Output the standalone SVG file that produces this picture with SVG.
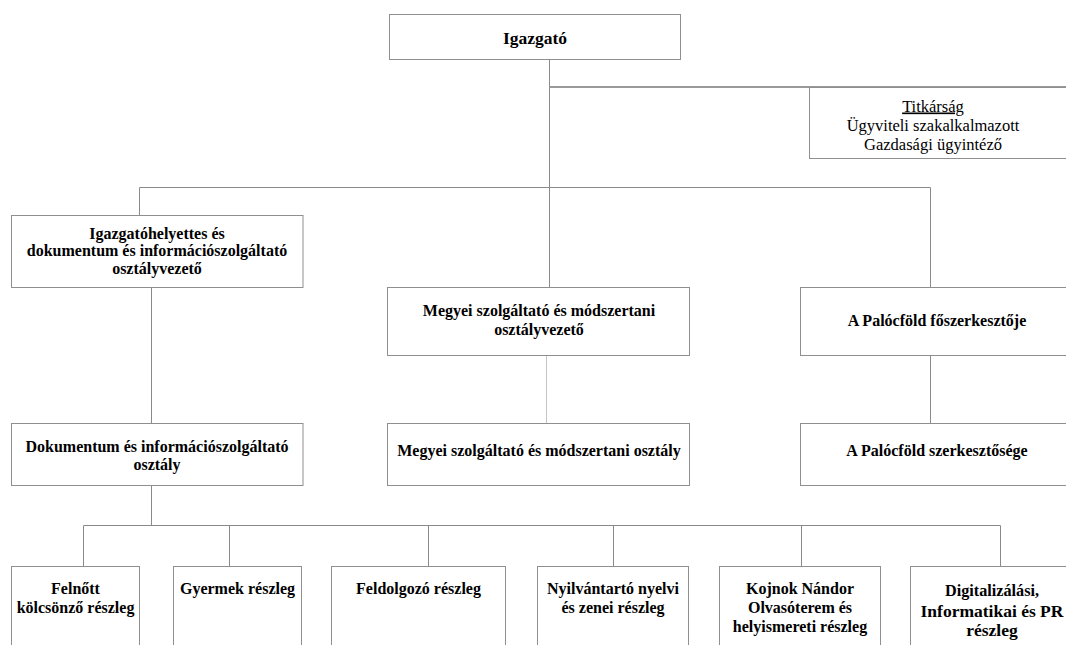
<svg xmlns="http://www.w3.org/2000/svg" width="1066" height="645" viewBox="0 0 1066 645">
<style>
.box{fill:#fff;stroke:#8f8f8f;stroke-width:1}
.ln{fill:none;stroke:#8a8a8a;stroke-width:1}
.t{font-weight:bold;font-size:16px;fill:#000;text-anchor:middle}
.r{font-size:16.5px;fill:#000;text-anchor:middle}
</style>
<rect width="1066" height="645" fill="#fff"/>
<g id="connectors">
<path class="ln" d="M549.5 59V187.5"/>
<path class="ln" d="M549.5 87H1070" style="stroke-width:2;stroke:#9a9a9a"/>
<path class="ln" d="M139.5 187.5H930.5M139.5 187.5V215M549.5 187.5V287M930.5 187.5V287"/>
<path class="ln" d="M151.5 287V423M930.5 355V423"/>
<path class="ln" d="M546.5 355V423" style="stroke:#c4c4c4"/>
<path class="ln" d="M151.5 485V525.5M83.5 525.5H1000.5M83.5 525.5V566M229.5 525.5V566M428.5 525.5V566M613.5 525.5V566M801.5 525.5V566M1000.5 525.5V566"/>
</g>
<g font-family="'Liberation Serif', 'Times New Roman', Tinos, 'DejaVu Serif', serif">
<g id="igazgato">
<rect class="box" x="389.5" y="14.5" width="291" height="45"/>
<text class="t" x="535" y="44" style="font-size:17.5px">Igazgató</text>
</g>
<g id="titkarsag">
<rect class="box" x="809.5" y="87.5" width="262" height="71"/>
<text class="r" x="933" y="111.5" text-decoration="underline">Titkárság</text>
<text class="r" x="933" y="130.5">Ügyviteli szakalkalmazott</text>
<text class="r" x="933" y="149.5">Gazdasági ügyintéző</text>
</g>
<g id="igazgatohelyettes">
<rect class="box" x="11.5" y="215.5" width="291.5" height="72"/>
<text class="t" x="157" y="238.5">Igazgatóhelyettes és</text>
<text class="t" x="157" y="256">dokumentum és információszolgáltató</text>
<text class="t" x="157" y="273.5">osztályvezető</text>
</g>
<g id="megyei-vezeto">
<rect class="box" x="387.5" y="287.5" width="302" height="68"/>
<text class="t" x="539" y="315.5">Megyei szolgáltató és módszertani</text>
<text class="t" x="539" y="335">osztályvezető</text>
</g>
<g id="palocfold-fo">
<rect class="box" x="800.5" y="287.5" width="280" height="68"/>
<text class="t" x="937" y="325.5">A Palócföld főszerkesztője</text>
</g>
<g id="dokumentum-osztaly">
<rect class="box" x="11.5" y="423.5" width="291.5" height="62"/>
<text class="t" x="157" y="451.5">Dokumentum és információszolgáltató</text>
<text class="t" x="157" y="470">osztály</text>
</g>
<g id="megyei-osztaly">
<rect class="box" x="387.5" y="423.5" width="302" height="62"/>
<text class="t" x="539" y="456">Megyei szolgáltató és módszertani osztály</text>
</g>
<g id="palocfold-szerk">
<rect class="box" x="800.5" y="423.5" width="280" height="62"/>
<text class="t" x="937" y="456">A Palócföld szerkesztősége</text>
</g>
<g id="felnott">
<rect class="box" x="11.5" y="566.5" width="128" height="100"/>
<text class="t" x="75.5" y="593.5">Felnőtt</text>
<text class="t" x="75.5" y="612.5">kölcsönző részleg</text>
</g>
<g id="gyermek">
<rect class="box" x="173.5" y="566.5" width="128" height="100"/>
<text class="t" x="237.5" y="594">Gyermek részleg</text>
</g>
<g id="feldolgozo">
<rect class="box" x="331.5" y="566.5" width="174" height="100"/>
<text class="t" x="418.5" y="594">Feldolgozó részleg</text>
</g>
<g id="nyilvantarto">
<rect class="box" x="537.5" y="566.5" width="151" height="100"/>
<text class="t" x="613" y="594">Nyilvántartó nyelvi</text>
<text class="t" x="613" y="613">és zenei részleg</text>
</g>
<g id="kojnok">
<rect class="box" x="719.5" y="566.5" width="161" height="100"/>
<text class="t" x="800" y="594">Kojnok Nándor</text>
<text class="t" x="800" y="613">Olvasóterem és</text>
<text class="t" x="800" y="632">helyismereti részleg</text>
</g>
<g id="digitalizalasi">
<rect class="box" x="910.5" y="566.5" width="170" height="100"/>
<text class="t" x="992" y="596" style="font-size:17.5px" textLength="94" lengthAdjust="spacingAndGlyphs">Digitalizálási,</text>
<text class="t" x="992" y="616.5" style="font-size:17.5px">Informatikai és PR</text>
<text class="t" x="992" y="636" style="font-size:17.5px">részleg</text>
</g>
</g>
</svg>
